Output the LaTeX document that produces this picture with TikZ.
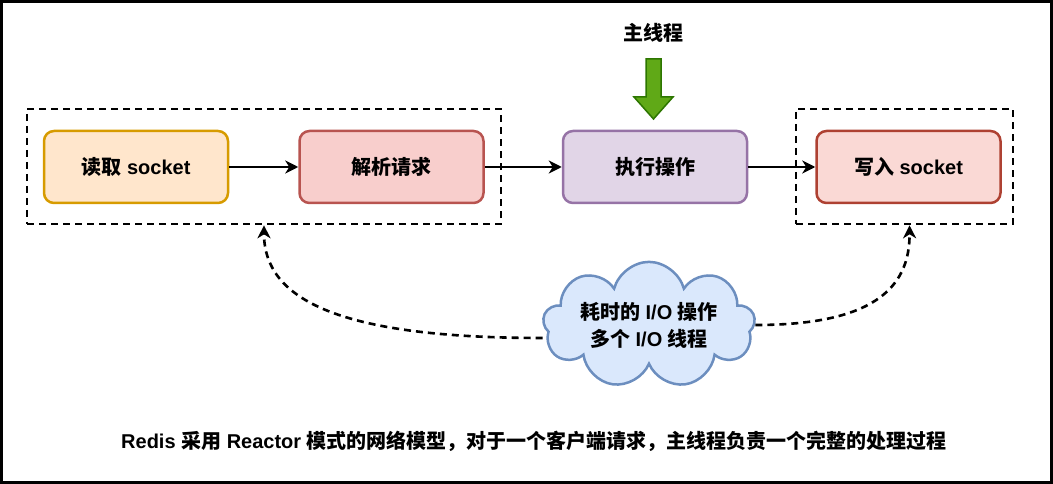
\documentclass[tikz,border=0pt]{standalone}
\usepackage{fontspec}
\setmainfont{Liberation Sans}
\newfontfamily\cjk{Noto Sans CJK SC}
\usetikzlibrary{shapes.symbols, arrows.meta}
\definecolor{readfill}{HTML}{FFE6CC}
\definecolor{readline}{HTML}{D79B00}
\definecolor{parsefill}{HTML}{F8CECC}
\definecolor{parseline}{HTML}{B85450}
\definecolor{execfill}{HTML}{E1D5E7}
\definecolor{execline}{HTML}{9673A6}
\definecolor{writefill}{HTML}{FAD9D5}
\definecolor{writeline}{HTML}{AE4132}
\definecolor{mainfill}{HTML}{60A917}
\definecolor{mainline}{HTML}{2D7600}
\definecolor{cloudfill}{HTML}{DAE8FC}
\definecolor{cloudline}{HTML}{6C8EBF}
\begin{document}
\begin{tikzpicture}[
  x = 1pt,
  y = -1pt,
  step box/.style = {
    rectangle,
    rounded corners = 10pt,
    line width = 2.5pt,
    minimum width = 184pt,
    minimum height = 72pt,
    font = \fontsize{20}{24}\selectfont\bfseries
  },
  io group/.style = {
    rectangle,
    draw = black,
    line width = 2.6pt,
    dash pattern = on 7pt off 5pt
  },
  flow/.style = {
    line width = 2.2pt,
    -{Stealth[length = 13pt, width = 13pt, inset = 4pt]}
  },
  io flow/.style = {
    flow,
    line width = 2.6pt,
    dash pattern = on 7pt off 5pt
  }
]
  \useasboundingbox (0, 0) rectangle (1053, 484);
  \draw[line width = 3pt] (1.5, 1.5) rectangle (1051.5, 482.5);

  \node[io group, minimum width = 474pt, minimum height = 115pt] (group1) at (264, 166.5) {};
  \node[io group, minimum width = 217pt, minimum height = 115pt] (group2) at (904.5, 166.5) {};

  \node[step box, fill = readfill, draw = readline] (read) at (136, 167) {{\cjk 读取} socket};
  \node[step box, fill = parsefill, draw = parseline] (parse) at (391.5, 167) {\cjk 解析请求};
  \node[step box, fill = execfill, draw = execline] (exec) at (655, 167) {\cjk 执行操作};
  \node[step box, fill = writefill, draw = writeline] (write) at (908.5, 167) {{\cjk 写入} socket};

  \draw[flow] (read) -- (parse);
  \draw[flow] (parse) -- (exec);
  \draw[flow] (exec) -- (write);

  \node[font = \fontsize{20}{24}\selectfont\bfseries] (main) at (653, 33) {\cjk 主线程};
  \draw[fill = mainfill, draw = mainline, line width = 1.5pt]
    (646, 59) -- (661, 59) -- (661, 97) -- (673, 97) -- (653.5, 119)
    -- (634, 97) -- (646, 97) -- cycle;

  \node[cloud, cloud puffs = 9, aspect = 1.8, fill = cloudfill, draw = cloudline,
        line width = 2.5pt, minimum width = 212pt, minimum height = 118pt, inner sep = -12pt,
        align = center, font = \fontsize{20}{27}\selectfont\bfseries]
    (io) at (649, 325) {{\cjk 耗时的} I/O {\cjk 操作}\\{\cjk 多个} I/O {\cjk 线程}};

  \draw[io flow] ([yshift = -13pt]io.west) .. controls (340, 338) and (264, 300) .. (group1.south);
  \draw[io flow] (io.east) .. controls (870, 325) and (910, 290) .. ([xshift = 5pt]group2.south);

  \node[font = \fontsize{20}{24}\selectfont\bfseries] (caption) at (534, 441)
    {Redis {\cjk 采用} Reactor {\cjk 模式的网络模型，对于一个客户端请求，主线程负责一个完整的处理过程}};
\end{tikzpicture}
\end{document}
